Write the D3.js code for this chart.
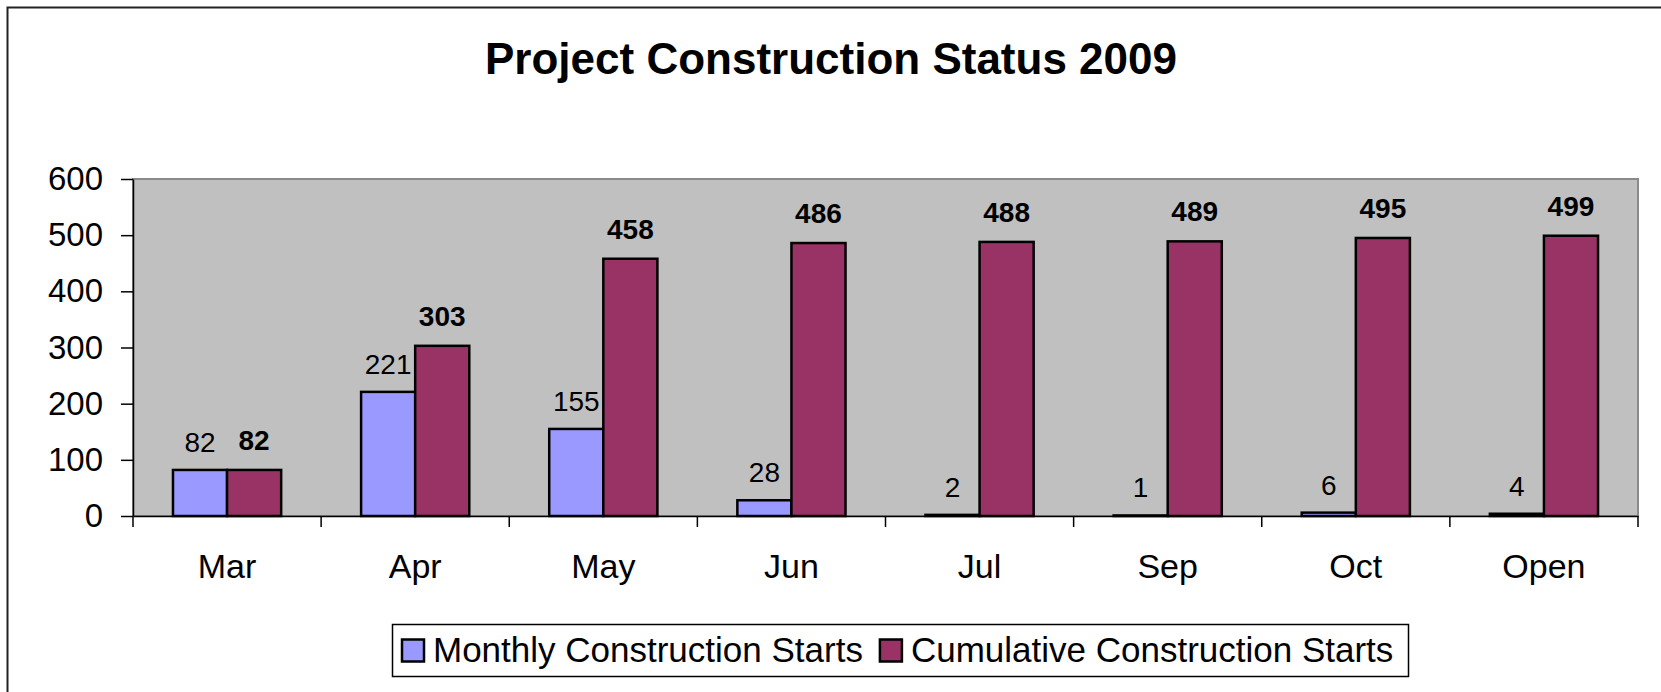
<!DOCTYPE html>
<html>
<head>
<meta charset="utf-8">
<script src="https://cdn.jsdelivr.net/npm/d3@7"></script>
<style>
  body { margin: 0; background: #fff; }
  svg { display: block; font-family: "Liberation Sans", Arial, sans-serif; }
</style>
</head>
<body>
<div id="chart"></div>
<script>
// data
const months = ["Mar", "Apr", "May", "Jun", "Jul", "Sep", "Oct", "Open"];
const monthly = [82, 221, 155, 28, 2, 1, 6, 4];
const cumulative = [82, 303, 458, 486, 488, 489, 495, 499];
const seriesNames = ["Monthly Construction Starts", "Cumulative Construction Starts"];
const yTicks = [0, 100, 200, 300, 400, 500, 600];

const width = 1661;
const height = 692;
const margin = { top: 179, right: 23, bottom: 176, left: 133 };

const colors = ["#9999ff", "#993366"];

const svg = d3.select("#chart")
  .append("svg")
  .attr("width", width)
  .attr("height", height);

// outer chart frame (runs off the right and bottom edges)
svg.append("rect")
  .attr("x", 7.5)
  .attr("y", 7.5)
  .attr("width", width + 20)
  .attr("height", height + 20)
  .attr("fill", "#fff")
  .attr("stroke", "#222")
  .attr("stroke-width", 2);

// title
svg.append("text")
  .attr("x", 831)
  .attr("y", 74)
  .attr("text-anchor", "middle")
  .style("font-size", "44px")
  .style("font-weight", "bold")
  .text("Project Construction Status 2009");

const x0 = d3.scaleBand()
  .domain(months)
  .range([margin.left, width - margin.right])
  .paddingInner(0.425)
  .paddingOuter(0.2125);

const x1 = d3.scaleBand()
  .domain([0, 1])
  .range([0, x0.bandwidth()]);

const y = d3.scaleLinear()
  .domain([0, 600])
  .range([height - margin.bottom, margin.top]);

// plot area
svg.append("rect")
  .attr("x", margin.left)
  .attr("y", y(600))
  .attr("width", width - margin.right - margin.left)
  .attr("height", y(0) - y(600))
  .attr("fill", "#c0c0c0")
  .attr("stroke", "#8a8a8a")
  .attr("stroke-width", 2);

// y axis
const yAxis = svg.append("g")
  .attr("transform", `translate(${margin.left},0)`)
  .call(d3.axisLeft(y).tickValues(yTicks).tickSize(12).tickPadding(18).tickSizeOuter(0));
yAxis.select(".domain").attr("stroke", "#000").attr("stroke-width", 1.5);
yAxis.selectAll(".tick line").attr("stroke", "#000").attr("stroke-width", 1.5);
yAxis.selectAll("text")
  .attr("fill", "#000")
  .style("font-size", "33px")
  .style("font-family", "'Liberation Sans', Arial, sans-serif");

// x axis: labels centred, ticks on category boundaries
const xAxis = svg.append("g")
  .attr("transform", `translate(0,${y(0)})`)
  .call(d3.axisBottom(x0).tickSize(0).tickSizeOuter(0));
xAxis.select(".domain").attr("stroke", "#000").attr("stroke-width", 1.5);
xAxis.selectAll("text")
  .attr("y", 62)
  .attr("dy", 0)
  .attr("fill", "#000")
  .style("font-size", "34px")
  .style("font-family", "'Liberation Sans', Arial, sans-serif");

const step = x0.step();
const bounds = d3.range(months.length + 1).map(i => margin.left + i * step);
svg.append("g")
  .selectAll("line")
  .data(bounds)
  .enter()
  .append("line")
  .attr("x1", d => d)
  .attr("x2", d => d)
  .attr("y1", y(0))
  .attr("y2", y(0) + 11)
  .attr("stroke", "#000")
  .attr("stroke-width", 1.5);

// bars
const rows = months.map((m, i) => ({ month: m, values: [monthly[i], cumulative[i]] }));

const groups = svg.append("g")
  .selectAll("g")
  .data(rows)
  .enter()
  .append("g")
  .attr("transform", d => `translate(${x0(d.month)},0)`);

groups.selectAll("rect")
  .data(d => d.values.map((v, s) => ({ v, s })))
  .enter()
  .append("rect")
  .attr("x", d => x1(d.s))
  .attr("y", d => y(d.v))
  .attr("width", x1.bandwidth())
  .attr("height", d => y(0) - y(d.v))
  .attr("fill", d => colors[d.s])
  .attr("stroke", "#000")
  .attr("stroke-width", 2.5);

// value labels
groups.selectAll("text")
  .data(d => d.values.map((v, s) => ({ v, s })))
  .enter()
  .append("text")
  .attr("x", d => x1(d.s) + x1.bandwidth() / 2)
  .attr("y", d => y(d.v) - (d.s === 0 ? 18 : 20))
  .attr("text-anchor", "middle")
  .style("font-size", "28px")
  .style("font-weight", d => d.s === 1 ? "bold" : "normal")
  .text(d => d.v);

// legend
const legend = svg.append("g");
const legendBox = legend.append("rect")
  .attr("x", 392.5)
  .attr("y", 624.5)
  .attr("width", 1016)
  .attr("height", 52)
  .attr("fill", "#fff")
  .attr("stroke", "#000")
  .attr("stroke-width", 1.5);

let lx = 402;
seriesNames.forEach((name, i) => {
  legend.append("rect")
    .attr("x", lx)
    .attr("y", 639.5)
    .attr("width", 22)
    .attr("height", 22)
    .attr("fill", colors[i])
    .attr("stroke", "#000")
    .attr("stroke-width", 2.5);
  const t = legend.append("text")
    .attr("x", lx + 31)
    .attr("y", 662)
    .style("font-size", "35px")
    .text(name);
  lx = lx + 31 + t.node().getComputedTextLength() + 17;
});
</script>
</body>
</html>
